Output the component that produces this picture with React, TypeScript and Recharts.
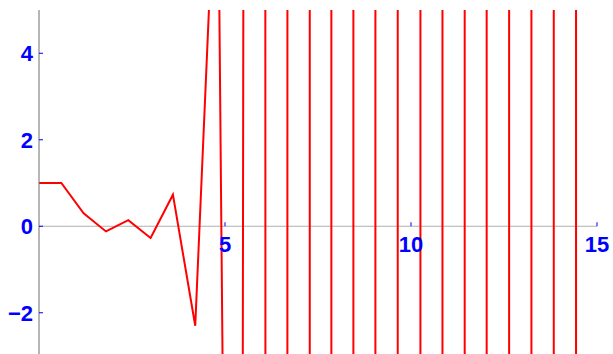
import { LineChart, Line, XAxis, YAxis, ReferenceLine, ReferenceDot } from 'recharts'

// sample positions and values of the sequence (later values blow up, alternating sign)
const xValues = [0, 0.6, 1.2, 1.8, 2.4, 3, 3.6, 4.2, 4.8, 5.4, 6, 6.6, 7.2, 7.8, 8.4, 9, 9.6, 10.2, 10.8, 11.4, 12, 12.6, 13.2, 13.8, 14.4, 15]
const yValues = [
  1, 1, 0.3, -0.12, 0.14, -0.27, 0.73, -2.3, 9.6, -47, 290, -1740, 11700, -78000, 710000,
  -7.6e6, 9.8e7, -1.26e9, 1.29e10, -1.56e11, 2.0e12, -3.3e13, 4.9e14, -7.4e15, 1.1e17, -1.7e18,
]
const xTicks = [5, 10, 15]
const yTicks = [-2, 0, 2, 4]

const data = xValues.map((x, i) => ({ x, y: yValues[i] }))

const BLUE = '#0000ff'
const FONT = 'Liberation Sans, Arial, sans-serif'
const TICK_GAP = 6

const fmt = (v: number) => (v < 0 ? `\u2212${-v}` : `${v}`)

function YTick({ x, y, payload }: any) {
  return (
    <g>
      <line x1={x + TICK_GAP} x2={x + TICK_GAP + 4} y1={y} y2={y} stroke={BLUE} strokeWidth={1} />
      <text x={x} y={y} dy={8} textAnchor="end" fill={BLUE} fontSize={22} fontWeight="bold" fontFamily={FONT}>
        {fmt(payload.value)}
      </text>
    </g>
  )
}

function XTick({ cx, cy, value }: any) {
  return (
    <g>
      <line x1={cx} x2={cx} y1={cy - 4} y2={cy} stroke={BLUE} strokeWidth={1} />
      <text x={cx} y={cy} dy={26} textAnchor="middle" fill={BLUE} fontSize={22} fontWeight="bold" fontFamily={FONT}>
        {fmt(value)}
      </text>
    </g>
  )
}

export default function App() {
  return (
    <div style={{ position: 'fixed', left: 0, top: 0, width: 613, height: 354, overflow: 'hidden', background: '#fff' }}>
      <LineChart width={613} height={356} data={data} margin={{ top: 10, right: 16, bottom: 0, left: 0 }}>
        <XAxis type="number" dataKey="x" domain={[0, 15]} hide />
        <YAxis
          type="number"
          domain={[-3, 5]}
          allowDataOverflow
          ticks={yTicks}
          width={39}
          tickSize={0}
          tickMargin={TICK_GAP}
          tickLine={false}
          axisLine={{ stroke: '#6e6e6e', strokeWidth: 1 }}
          tick={YTick}
        />
        <ReferenceLine y={0} stroke="#b0b0b0" strokeWidth={1} />
        {xTicks.map((t) => (
          <ReferenceDot key={t} x={t} y={0} r={0} shape={(p: any) => <XTick {...p} value={t} />} />
        ))}
        <Line
          type="linear"
          dataKey="y"
          stroke="#ff0000"
          strokeWidth={2}
          dot={false}
          isAnimationActive={false}
        />
      </LineChart>
    </div>
  )
}
